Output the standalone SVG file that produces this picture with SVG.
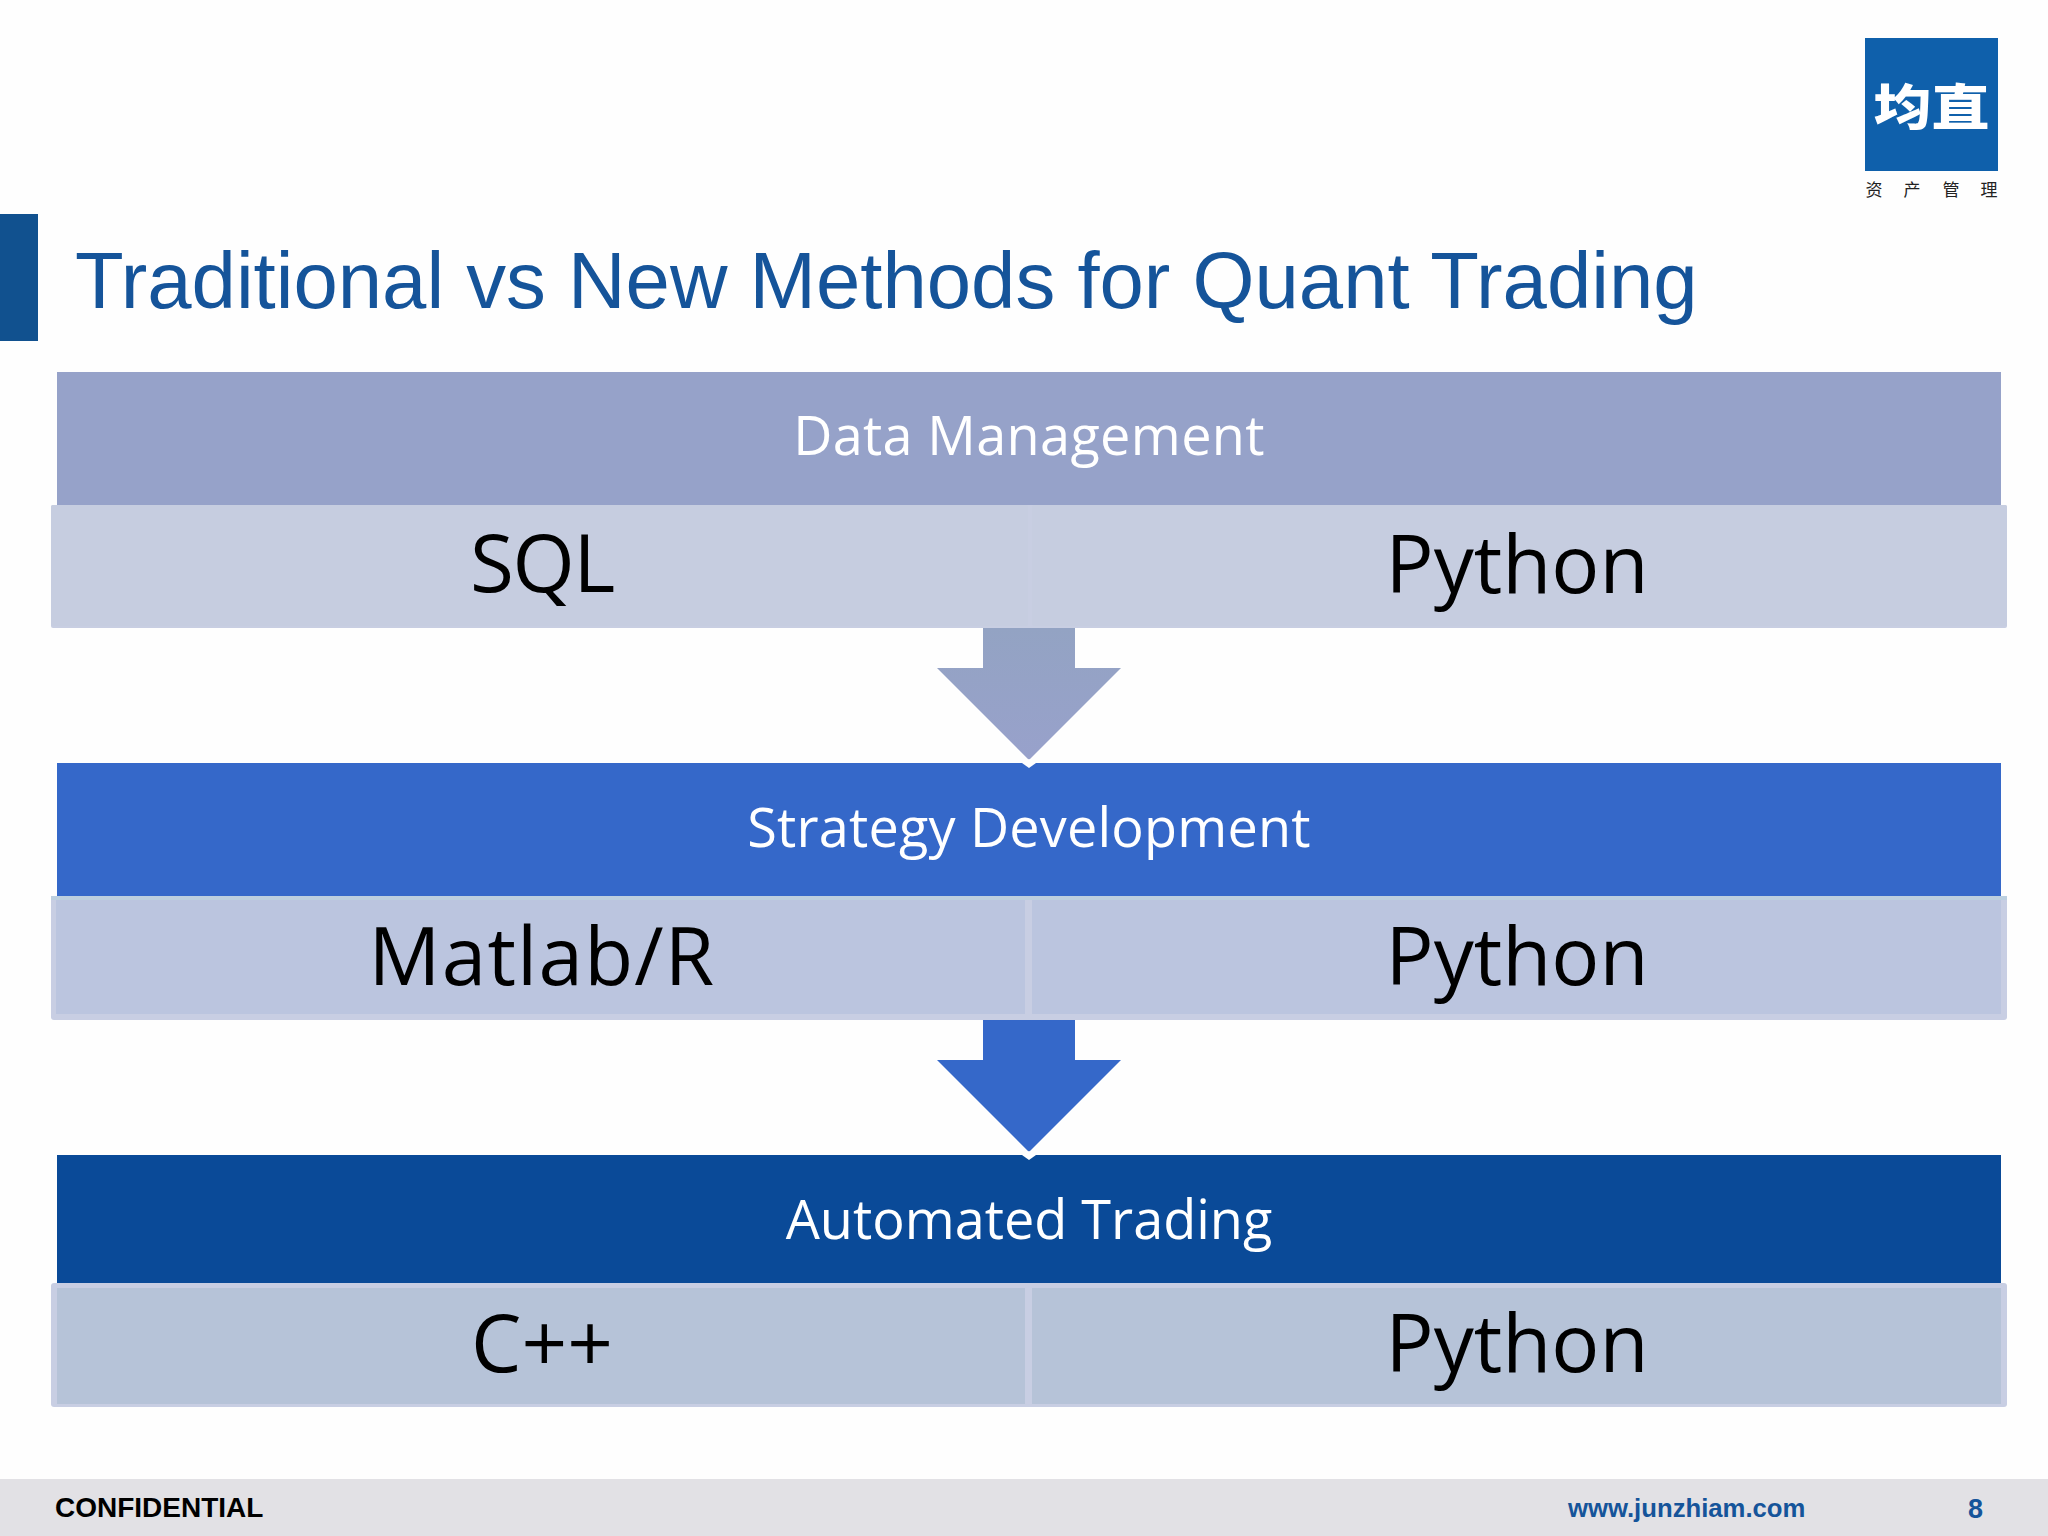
<svg xmlns="http://www.w3.org/2000/svg" width="2048" height="1536" viewBox="0 0 2048 1536">
<style>
.hd{font-family:"Open Sans","Noto Sans",sans-serif;font-size:54px;fill:#fff;text-anchor:middle}
.cell{font-family:"Open Sans","Noto Sans",sans-serif;font-size:80px;fill:#000;text-anchor:middle}
.foot{font-family:"Liberation Sans",Arial,sans-serif;font-weight:700;font-size:28px}
.cjk{font-family:"Noto Sans CJK SC",sans-serif;text-anchor:middle}
.tip{fill:#fff}
</style>
<defs>
<linearGradient id="a1" x1="0" y1="0" x2="0" y2="1"><stop offset="0" stop-color="#93a3c3"/><stop offset="1" stop-color="#98a1cb"/></linearGradient>
</defs>
<rect width="2048" height="1536" fill="#fefefe"/>
<g id="logo">
<rect x="1865" y="38" width="133" height="133" fill="#0f60ab"/>
<text class="cjk" transform="translate(1931.500 125) scale(1 .84)" font-size="58" font-weight="900" fill="#fff">均直</text>
<g class="cjk" font-size="17" fill="#222"><text x="1874" y="196">资</text><text x="1912" y="196">产</text><text x="1951" y="196">管</text><text x="1989" y="196">理</text></g>
</g>
<g id="title">
<rect x="0" y="214" width="38" height="127" fill="#11518f"/>
<text x="75" y="308" font-family="'Liberation Sans',Arial,sans-serif" font-size="79.700" fill="#15549a">Traditional vs New Methods for Quant Trading</text>
</g>
<g id="connectors">
<path d="M983 628H1075V668H1121L1029 760L937 668H983Z" fill="url(#a1)"/>
<path d="M983 1020H1075V1060H1121L1029 1152L937 1060H983Z" fill="#3568c9"/>
</g>
<g id="data-management">
<rect x="57" y="372" width="1944" height="133" fill="#96a2c9"/>
<text class="hd" x="1029" y="455" letter-spacing=".35">Data Management</text>
</g>
<rect x="51" y="505" width="1956" height="123" rx="2" fill="#c8cee2"/>
<g id="data-left"><rect x="51" y="505" width="977" height="121" rx="2" fill="#c6cde0"/><text class="cell" x="542" y="592" letter-spacing="-1.300">SQL</text></g>
<g id="data-right"><rect x="1032" y="505" width="975" height="121" rx="2" fill="#c6cde0"/><text class="cell" x="1517" y="593">Python</text></g>
<g id="strategy-development">
<rect x="57" y="763" width="1944" height="133" fill="#3568c9"/>
<path class="tip" d="M1029 759L1036 763L1029 768L1022 763Z"/>
<text class="hd" x="1029" y="847" letter-spacing=".2">Strategy Development</text>
</g>
<rect x="51" y="896" width="1956" height="124" rx="3" fill="#c8cee3"/>
<rect x="51" y="896" width="1956" height="4" fill="#bccfdf"/>
<g id="strategy-left"><rect x="56" y="900" width="969" height="114" fill="#bbc5df"/><text class="cell" x="542" y="985" letter-spacing="1.200">Matlab/R</text></g>
<g id="strategy-right"><rect x="1032" y="900" width="969" height="114" fill="#bbc5df"/><text class="cell" x="1517" y="985">Python</text></g>
<g id="automated-trading">
<rect x="57" y="1155" width="1944" height="128" fill="#0a4a98"/>
<path class="tip" d="M1029 1151L1036 1155L1029 1160L1022 1155Z"/>
<text class="hd" x="1029" y="1239">Automated Trading</text>
</g>
<rect x="51" y="1283" width="1956" height="124" rx="3" fill="#c8cee3"/>
<g id="automated-left"><rect x="57" y="1288" width="968" height="116" fill="#b6c3d8"/><text class="cell" x="542" y="1372">C++</text></g>
<g id="automated-right"><rect x="1032" y="1288" width="969" height="116" fill="#b6c3d8"/><text class="cell" x="1517" y="1372">Python</text></g>
<g id="footer">
<rect y="1479" width="2048" height="57" fill="#e2e1e5"/>
<text class="foot" x="55" y="1517" fill="#000">CONFIDENTIAL</text>
<text class="foot" x="1568" y="1517" fill="#15549a" style="font-size:25.700px">www.junzhiam.com</text>
<text class="foot" x="1968" y="1518" fill="#15549a" style="font-size:27px">8</text>
</g>
</svg>
